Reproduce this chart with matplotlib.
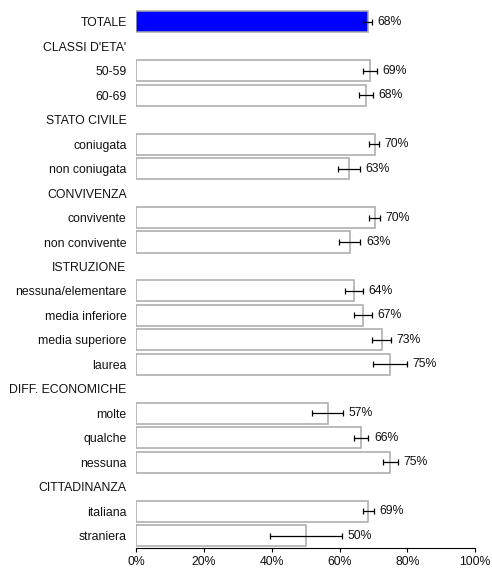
import matplotlib
matplotlib.use("Agg")
import matplotlib.pyplot as plt
import numpy as np

plt.rcParams["font.family"] = ["Liberation Sans", "DejaVu Sans"]

# righe del grafico (le intestazioni di gruppo non hanno barra)
labels = ["TOTALE", "CLASSI D'ETA'", "50-59", "60-69",
          "STATO CIVILE", "coniugata", "non coniugata",
          "CONVIVENZA", "convivente", "non convivente",
          "ISTRUZIONE", "nessuna/elementare", "media inferiore", "media superiore", "laurea",
          "DIFF. ECONOMICHE", "molte", "qualche", "nessuna",
          "CITTADINANZA", "italiana", "straniera"]
values = [68.3, None, 69.0, 67.7,
          None, 70.3, 62.8,
          None, 70.5, 62.9,
          None, 64.3, 67.0, 72.5, 74.9,
          None, 56.5, 66.3, 74.9,
          None, 68.4, 50.0]
ci_low = [66.9, None, 66.9, 65.6,
          None, 68.7, 59.4,
          None, 68.7, 59.9,
          None, 61.6, 64.3, 69.6, 69.7,
          None, 51.9, 64.2, 72.9,
          None, 67.0, 39.4]
ci_high = [69.5, None, 70.9, 69.7,
           None, 71.7, 65.9,
           None, 71.8, 66.1,
           None, 66.9, 69.6, 75.1, 79.8,
           None, 61.1, 68.5, 77.2,
           None, 70.1, 60.6]
pct_labels = ["68%", "", "69%", "68%", "", "70%", "63%", "", "70%", "63%", "",
              "64%", "67%", "73%", "75%", "", "57%", "66%", "75%", "", "69%", "50%"]
xticks = [0, 20, 40, 60, 80, 100]

fig = plt.figure(figsize=(4.92, 5.75), dpi=100)
ax = fig.add_axes([0.277, 0.047, 0.689, 0.9365])

ypos = np.arange(len(labels))
for i, v in enumerate(values):
    if v is None:
        continue
    fc = "#0000ff" if i == 0 else "white"
    ax.barh(i, v, height=0.86, color=fc, edgecolor="#a8a8a8", linewidth=1.1, zorder=2)
    ax.errorbar(v, i, xerr=[[v - ci_low[i]], [ci_high[i] - v]], fmt="none",
                ecolor="black", elinewidth=0.9, capsize=2.2, capthick=0.9, zorder=3)
    ax.annotate(pct_labels[i], (ci_high[i], i), xytext=(4, 0), textcoords="offset points",
                ha="left", va="center", fontsize=8.8, color="#111111")

ax.set_xlim(0, 100)
ax.set_ylim(len(labels) - 0.5, -0.5)
ax.set_yticks(ypos)
ax.set_yticklabels(labels, fontsize=8.8, color="#111111")
ax.set_xticks(xticks)
ax.set_xticklabels([f"{t}%" for t in xticks], fontsize=8.8, color="#111111")
ax.tick_params(axis="y", length=0, pad=7)
ax.tick_params(axis="x", length=3, width=0.8, pad=3)
for s in ("left", "right", "top"):
    ax.spines[s].set_visible(False)
ax.spines["bottom"].set_linewidth(0.8)

fig.savefig("out.png", dpi=100, facecolor="white")
